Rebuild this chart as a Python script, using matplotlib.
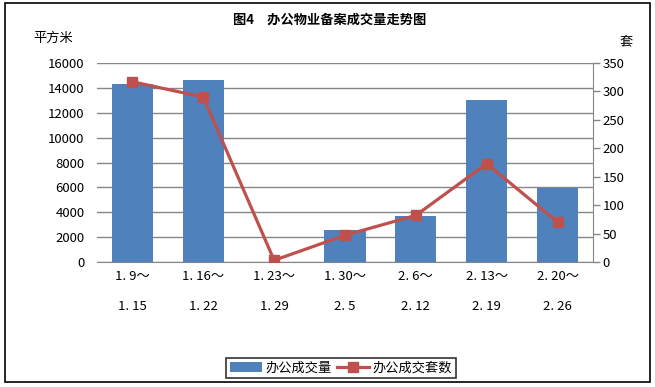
import matplotlib
matplotlib.use("Agg")
import matplotlib.pyplot as plt
from matplotlib.patches import Rectangle

plt.rcParams['font.family'] = ['Noto Sans CJK SC', 'DejaVu Sans']

# data
periods = ["1. 9～\n\n1. 15", "1. 16～\n\n1. 22", "1. 23～\n\n1. 29", "1. 30～\n\n2. 5",
           "2. 6～\n\n2. 12", "2. 13～\n\n2. 19", "2. 20～\n\n2. 26"]
area = [14330, 14650, 30, 2600, 3700, 13040, 5980]      # 办公成交量 (平方米)
units = [317, 290, 3, 47, 82, 173, 70]                  # 办公成交套数 (套)

bar_color = "#4F81BD"
line_color = "#C0504D"
grid_color = "#868686"

fig = plt.figure(figsize=(6.55, 3.87), dpi=100)
ax = fig.add_axes([97 / 655, 1 - 262 / 387, 496 / 655, 199 / 387])
ax2 = ax.twinx()

x = range(len(periods))
bars = ax.bar(x, area, width=0.58, color=bar_color, zorder=2, label="办公成交量")
line, = ax2.plot(x, units, color=line_color, lw=2.3, marker="s", markersize=6.5,
                 markeredgecolor=line_color, label="办公成交套数", zorder=3)

# left axis
ax.set_ylim(0, 16000)
ax.set_yticks(range(0, 16001, 2000))
ax.set_xlim(-0.5, len(periods) - 0.5)
ax.grid(axis="y", color=grid_color, lw=1, zorder=0)
ax.set_axisbelow(True)
ax.tick_params(axis="y", length=0, pad=9, labelsize=9.5)
ax.set_xticks(list(x))
ax.set_xticklabels(periods, fontsize=9.5, linespacing=1.2)
ax.tick_params(axis="x", length=0, pad=6)
for s in ["left", "top", "right"]:
    ax.spines[s].set_visible(False)
ax.spines["bottom"].set_color(grid_color)

# right axis
ax2.set_ylim(0, 350)
ax2.set_yticks(range(0, 351, 50))
ax2.tick_params(axis="y", length=5, width=1, color=grid_color, pad=2, labelsize=9.5)
for s in ["left", "top", "bottom"]:
    ax2.spines[s].set_visible(False)
ax2.spines["right"].set_color(grid_color)

# titles and unit labels
fig.text(0.503, 1 - 20 / 387, "图4　办公物业备案成交量走势图", ha="center", va="center",
         fontsize=9.5, fontweight="bold")
fig.text(33 / 655, 1 - 38 / 387, "平方米", ha="left", va="center", fontsize=9.5)
fig.text(626 / 655, 1 - 42 / 387, "套", ha="center", va="center", fontsize=9.5)

# legend
leg = fig.legend([bars, line], ["办公成交量", "办公成交套数"], loc="center",
                 bbox_to_anchor=(341 / 655, 1 - 368 / 387), ncol=2, fontsize=9.5,
                 frameon=True, fancybox=False, edgecolor="black", handlelength=2.4,
                 handletextpad=0.3, columnspacing=0.4, borderpad=0.3)
leg.get_frame().set_linewidth(1.2)

# outer border
fig.patches.append(Rectangle((5 / 655, 5 / 387), 645 / 655, 379 / 387,
                             transform=fig.transFigure, fill=False,
                             edgecolor="black", lw=1.2))

fig.savefig("out.png", dpi=100)
